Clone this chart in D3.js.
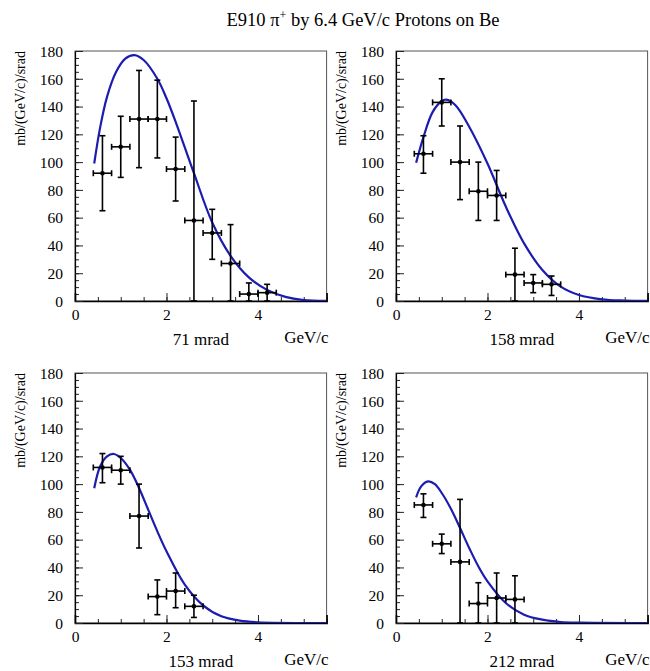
<!DOCTYPE html>
<html>
<head>
<meta charset="utf-8">
<script src="https://cdn.jsdelivr.net/npm/d3@7"></script>
<style>
  body { margin: 0; background: #fff; }
  svg text { font-family: "Liberation Serif", "Times New Roman", serif; fill: #000; }
</style>
</head>
<body>
<svg id="chart" width="650" height="671"></svg>
<script>
// Pi+ production cross sections, E910, 6.4 GeV/c protons on beryllium
const panelLabels = ["71 mrad", "158 mrad", "153 mrad", "212 mrad"];
const momentum = [0.6, 1.0, 1.4, 1.8, 2.2, 2.6, 3.0, 3.4, 3.8, 4.2];  // bin centres, GeV/c
const binHalfWidth = 0.2;
const xTicks = [0, 2, 4];
const yTicks = [0, 20, 40, 60, 80, 100, 120, 140, 160, 180];

// measured points: value, upper and lower error-bar ends (mb/(GeV/c)/srad)
const val71 = [92, 111, 131, 131, 95, 58, 49, 27, 5, 6];
const hi71  = [119, 133, 166, 159, 118, 144, 66, 55, 13, 12];
const lo71  = [65, 89, 96, 103, 72, 0, 30, 0, 0, 0];

const val158 = [106, 143, 100, 79, 76, 19, 13, 12];
const hi158  = [119, 160, 126, 100, 94, 38, 19, 18];
const lo158  = [92, 126, 73, 58, 58, 0, 6, 4];

const val153 = [112, 110, 77, 19, 23, 12];
const hi153  = [122, 120, 100, 31, 36, 20];
const lo153  = [101, 100, 54, 6, 11, 4];

const val212 = [85, 57, 44, 14, 18, 17];
const hi212  = [93, 64, 89, 29, 36, 34];
const lo212  = [76, 50, 0, 0, 0, 0];

// fitted parametrisation, sampled along momentum
const fitP71 = [0.42, 0.55, 0.7, 0.9, 1.1, 1.3, 1.5, 1.8, 2.0, 2.2, 2.6, 3.0, 3.4, 3.8, 4.2, 4.6, 5.0, 5.5];
const fitV71 = [99, 125, 147, 165, 174.5, 177, 173.5, 160, 146, 129, 92, 56.5, 32.5, 17, 8, 3, 0.7, 0.1];

const fitP158 = [0.44, 0.6, 0.8, 1.0, 1.1, 1.3, 1.6, 2.0, 2.4, 2.8, 3.2, 3.6, 4.0, 4.5, 5.0, 5.5];
const fitV158 = [99.5, 118, 136, 144, 145, 141, 125.5, 99, 68, 41.5, 22.3, 10.3, 4.3, 1.2, 0.3, 0.05];

const fitP153 = [0.42, 0.55, 0.7, 0.85, 1.0, 1.2, 1.4, 1.6, 1.8, 2.0, 2.4, 2.8, 3.2, 3.6, 4.0, 5.5];
const fitV153 = [97, 112.8, 120, 121.7, 118.8, 110.4, 97.2, 81.6, 66, 51.6, 27.6, 12.7, 4.8, 1.7, 0.5, 0];

const fitP212 = [0.44, 0.55, 0.7, 0.85, 1.0, 1.2, 1.4, 1.6, 1.8, 2.0, 2.4, 2.8, 3.2, 3.6, 4.0, 5.5];
const fitV212 = [90.5, 98.4, 102, 100, 93.6, 82.3, 68.4, 54, 40.8, 30, 14.4, 6, 2.4, 0.7, 0.2, 0];

const panels = [
  { label: panelLabels[0], val: val71,  hi: hi71,  lo: lo71,  fp: fitP71,  fv: fitV71,  left: 75,  top: 51 },
  { label: panelLabels[1], val: val158, hi: hi158, lo: lo158, fp: fitP158, fv: fitV158, left: 396, top: 51 },
  { label: panelLabels[2], val: val153, hi: hi153, lo: lo153, fp: fitP153, fv: fitV153, left: 75,  top: 373 },
  { label: panelLabels[3], val: val212, hi: hi212, lo: lo212, fp: fitP212, fv: fitV212, left: 396, top: 373 }
];

const frameW = 251.6, frameH = 250;
const svg = d3.select("#chart");

// title with superscript charge
const title = svg.append("text")
  .attr("x", 363).attr("y", 26)
  .attr("text-anchor", "middle")
  .style("font-size", "18.5px");
title.append("tspan").text("E910 π");
title.append("tspan").attr("dy", -7).style("font-size", "12px").text("+");
title.append("tspan").attr("dy", 7).text(" by 6.4 GeV/c Protons on Be");

panels.forEach((p, i) => {
  const g = svg.append("g").attr("transform", `translate(${p.left},${p.top})`);
  const x = d3.scaleLinear().domain([0, 5.5]).range([0, frameW]);
  const y = d3.scaleLinear().domain([0, 180]).range([frameH, 0]);

  // frame
  g.append("rect")
    .attr("width", frameW).attr("height", frameH)
    .attr("fill", "none").attr("stroke", "#555").attr("stroke-width", 1);

  // x axis: minor then major ticks, pointing into the frame
  g.append("g").attr("transform", `translate(0,${frameH})`)
    .call(d3.axisBottom(x).tickValues(d3.range(0, 5.51, 0.5)).tickSize(-4).tickFormat(""))
    .call(a => a.select(".domain").remove())
    .selectAll("line").attr("stroke", "#222");
  const xa = g.append("g").attr("transform", `translate(0,${frameH})`)
    .call(d3.axisBottom(x).tickValues(xTicks).tickSize(-8).tickPadding(0).tickFormat(d3.format("d")));
  xa.select(".domain").attr("stroke", "#000").attr("stroke-width", 1.6);
  xa.selectAll("line").attr("stroke", "#222");
  xa.selectAll("text").attr("y", 19).attr("dy", null).style("font-size", "15.5px");

  // y axis
  g.append("g")
    .call(d3.axisLeft(y).tickValues(d3.range(0, 180.1, 5)).tickSize(-4).tickFormat(""))
    .call(a => a.select(".domain").remove())
    .selectAll("line").attr("stroke", "#222");
  const ya = g.append("g")
    .call(d3.axisLeft(y).tickValues(yTicks).tickSize(-8).tickPadding(0).tickFormat(d3.format("d")));
  ya.select(".domain").attr("stroke", "#000").attr("stroke-width", 1.2);
  ya.selectAll("line").attr("stroke", "#222");
  ya.selectAll("text").attr("x", -12).attr("dy", "0.34em").style("font-size", "15.5px");

  // axis titles
  g.append("text")
    .attr("transform", `translate(-50,0) rotate(-90)`)
    .attr("text-anchor", "end")
    .style("font-size", "14px")
    .text("mb/(GeV/c)/srad");
  g.append("text")
    .attr("x", frameW + 2).attr("y", frameH + 42)
    .attr("text-anchor", "end")
    .style("font-size", "17px")
    .text("GeV/c");
  g.append("text")
    .attr("x", frameW / 2).attr("y", frameH + 44)
    .attr("text-anchor", "middle")
    .style("font-size", "17px")
    .text(p.label);

  // fitted curve, clipped to the frame
  const clipId = `clip${i}`;
  g.append("clipPath").attr("id", clipId)
    .append("rect").attr("width", frameW).attr("height", frameH);
  const fit = p.fp.map((m, k) => [m, p.fv[k]]);
  g.append("path")
    .datum(fit)
    .attr("clip-path", `url(#${clipId})`)
    .attr("fill", "none")
    .attr("stroke", "#1c1cb0")
    .attr("stroke-width", 2.2)
    .attr("d", d3.line().x(d => x(d[0])).y(d => y(d[1])).curve(d3.curveCatmullRom));

  // data points with error bars
  const cap = 3;
  const pts = p.val.map((v, k) => ({ m: momentum[k], v, hi: p.hi[k], lo: p.lo[k] }));
  const pg = g.append("g").attr("stroke", "#000").attr("stroke-width", 1.6);
  pts.forEach(d => {
    const cx = x(d.m), cy = y(d.v);
    const x0 = x(d.m - binHalfWidth), x1 = x(d.m + binHalfWidth);
    const yH = y(d.hi), yL = y(d.lo);
    pg.append("line").attr("x1", cx).attr("x2", cx).attr("y1", yH).attr("y2", yL);
    pg.append("line").attr("x1", cx - cap).attr("x2", cx + cap).attr("y1", yH).attr("y2", yH);
    pg.append("line").attr("x1", cx - cap).attr("x2", cx + cap).attr("y1", yL).attr("y2", yL);
    pg.append("line").attr("x1", x0).attr("x2", x1).attr("y1", cy).attr("y2", cy);
    pg.append("line").attr("x1", x0).attr("x2", x0).attr("y1", cy - cap).attr("y2", cy + cap);
    pg.append("line").attr("x1", x1).attr("x2", x1).attr("y1", cy - cap).attr("y2", cy + cap);
    pg.append("circle").attr("cx", cx).attr("cy", cy).attr("r", 2.3).attr("fill", "#000").attr("stroke", "none");
  });
});
</script>
</body>
</html>
